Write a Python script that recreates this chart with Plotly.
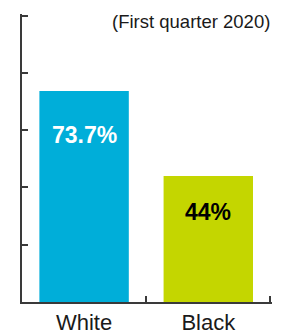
import plotly.graph_objects as go

categories = ["White", "Black"]
values = [73.7, 44]
labels = ["73.7%", "44%"]
colors = ["#00AED9", "#C4D600"]
label_colors = ["white", "black"]
label_shift = [-44, -36]
y_ticks = [0, 20, 40, 60, 80, 100]

fig = go.Figure()
fig.add_trace(go.Bar(x=categories, y=values, marker=dict(color=colors, line=dict(width=0)),
                     width=0.72, hoverinfo="skip"))

for c, v, t, col, s in zip(categories, values, labels, label_colors, label_shift):
    fig.add_annotation(x=c, y=v, text="<b>%s</b>" % t, showarrow=False, yshift=s,
                       yanchor="middle", font=dict(family="Liberation Sans, Arial", size=23, color=col))

fig.add_annotation(xref="paper", yref="paper", x=1.0, y=1.0, xanchor="right", yanchor="middle",
                   text="(First quarter 2020)", showarrow=False, yshift=-7,
                   font=dict(family="Liberation Sans, Arial", size=18.5, color="#1a1a1a"))

fig.update_layout(
    width=284, height=335,
    margin=dict(l=22, r=12, t=14, b=33, autoexpand=False),
    paper_bgcolor="white", plot_bgcolor="white",
    showlegend=False,
    font=dict(family="Liberation Sans, Arial", color="#1a1a1a"),
)
fig.update_xaxes(showline=True, linecolor="#3a3a3a", linewidth=1.5, ticks="inside",
                 tickson="boundaries", ticklen=6, tickcolor="#3a3a3a", tickwidth=1.5,
                 range=[-0.5, 1.513],
                 tickfont=dict(size=22, color="#1a1a1a"), showgrid=False, automargin=False)
fig.update_yaxes(range=[0, 100.6], tickvals=y_ticks, showticklabels=False, showline=True,
                 linecolor="#3a3a3a", linewidth=1.5, ticks="inside", ticklen=6,
                 tickcolor="#3a3a3a", tickwidth=1.5, showgrid=False, zeroline=False,
                 automargin=False)

fig.write_html("out.html", config={"displayModeBar": False},
               post_script="document.body.style.margin='0';document.body.style.padding='0';")
